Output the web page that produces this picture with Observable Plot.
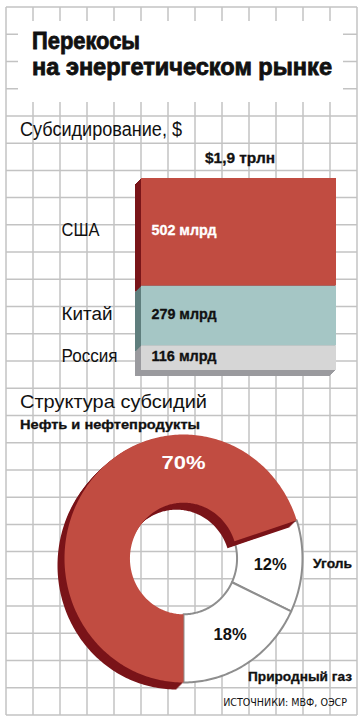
<!DOCTYPE html>
<html><head><meta charset="utf-8">
<script src="https://cdn.jsdelivr.net/npm/d3@7"></script>
<script src="https://cdn.jsdelivr.net/npm/@observablehq/plot@0.6"></script>
<style>
html,body{margin:0;padding:0;background:#fff;}
#page{position:relative;width:361px;height:726px;overflow:hidden;background:#fff;}
#page > svg{position:absolute;left:0;}
</style></head><body><div id="page"></div>
<script>
// ---------- data ----------
const titleLines = ["Перекосы", "на энергетическом рынке"];
const barTitle = "Субсидирование, $";
const totalLabel = "$1,9 трлн";
const countries = ["США", "Китай", "Россия"];
const subsidies = [502, 279, 116];            // млрд долл.
const subsidyLabels = ["502 млрд", "279 млрд", "116 млрд"];
const pieTitle = "Структура субсидий";
const fuels = ["Нефть и нефтепродукты", "Уголь", "Природный газ"];
const shares = [70, 12, 18];                  // %
const shareLabels = ["70%", "12%", "18%"];
const source = "ИСТОЧНИКИ: МВФ, ОЭСР";

// ---------- styles ----------
const FONT = "'Liberation Sans', Arial, sans-serif";
const barFront = {"США": "#c14c41", "Китай": "#a5c6c5", "Россия": "#d6d6d6"};
const barSide  = {"США": "#7a1519", "Китай": "#5f7e7d", "Россия": "#9a9a9e"};
const oilFront = "#c14c41", oilSide = "#7a1419";

const page = document.getElementById("page");

// background graph paper + title box
const bg = d3.select(page).append("svg").attr("width", 361).attr("height", 726).style("top", "0px");
const gx = d3.range(14).map(i => 6 + 27 * i);
const gy = d3.range(27).map(i => 7 + i * 708 / 26);
bg.selectAll("line.v").data(gx).join("line").attr("class", "v")
  .attr("x1", d => d).attr("x2", d => d).attr("y1", 7).attr("y2", 715)
  .attr("stroke", "#c3c3c3").attr("stroke-width", 1.5);
bg.selectAll("line.h").data(gy).join("line").attr("class", "h")
  .attr("y1", d => d).attr("y2", d => d).attr("x1", 6).attr("x2", 357)
  .attr("stroke", "#c3c3c3").attr("stroke-width", 1.5);
bg.append("rect").attr("x", 18).attr("y", 21).attr("width", 325).attr("height", 81).attr("fill", "#fff");

function fitTexts(svg, widths) {
  svg.querySelectorAll("text").forEach(t => {
    const w = widths[t.textContent];
    if (w) { t.setAttribute("textLength", w); t.setAttribute("lengthAdjust", "spacingAndGlyphs"); }
  });
}

// ---------- stacked subsidy column ----------
const rows = countries.map((c, i) => ({country: c, value: subsidies[i], label: subsidyLabels[i]}));
const stackRows = rows.slice().reverse(); // bottom first
const X = () => "всего";
const barPlot = Plot.plot({
  width: 361, height: 250,
  marginLeft: 141, marginRight: 25, marginTop: 38, marginBottom: 20,
  style: {background: "none", position: "absolute", top: "140px", left: "0px", overflow: "visible", fontFamily: FONT},
  x: {type: "band", domain: ["всего"], padding: 0, axis: null},
  y: {domain: [0, d3.sum(subsidies)], axis: null},
  color: {type: "identity"},
  marks: [
    ...d3.range(6, 0, -1).map(k => Plot.barY(stackRows, {x: X, y: "value", z: "country", fill: d => barSide[d.country], dx: -k, dy: k})),
    Plot.barY(stackRows, {x: X, y: "value", z: "country", fill: d => barFront[d.country]}),
    Plot.text(stackRows, Plot.stackY({y: "value", z: "country", text: "label", frameAnchor: "left", dx: 10, dy: -1.5, textAnchor: "start",
      fill: d => d.country === "США" ? "#fff" : "#111", fontWeight: "bold", fontSize: 14, stroke: d => d.country === "США" ? "#fff" : "#111", strokeWidth: 0.3})),
    Plot.text(stackRows, Plot.stackY({y: "value", z: "country", text: "country", frameAnchor: "left", dx: -80, dy: -2, textAnchor: "start",
      fill: "#111", fontSize: 18}))
  ]
});
fitTexts(barPlot, {"США": 38, "Китай": 51, "Россия": 56, "502 млрд": 65, "279 млрд": 65, "116 млрд": 65});
page.appendChild(barPlot);

// ---------- donut ----------
const total = d3.sum(shares);
let acc = 180; // clockwise from top; the largest share ends at the bottom
const slices = fuels.map((name, i) => { const a0 = acc, a1 = acc + shares[i] / total * 360; acc = a1; return {name, i, a0, a1}; });
const inner = 0.45;
const rad = a => a * Math.PI / 180;
function ring(s) {
  const pts = [], n = Math.max(2, Math.ceil(s.a1 - s.a0));
  for (let j = 0; j <= n; j++) { const a = rad(s.a0 + (s.a1 - s.a0) * j / n); pts.push({name: s.name, x: Math.sin(a), y: Math.cos(a)}); }
  for (let j = n; j >= 0; j--) { const a = rad(s.a0 + (s.a1 - s.a0) * j / n); pts.push({name: s.name, x: inner * Math.sin(a), y: inner * Math.cos(a)}); }
  pts.push({...pts[0]});
  return pts;
}
const oil = ring(slices[0]);
const others = slices.slice(1).flatMap(ring);
const labelPts = slices.map((s, i) => {
  const a = rad(i === 0 ? 0 : (s.a0 + s.a1) / 2), r = i === 0 ? 0.77 : 0.73;
  return {text: shareLabels[i], x: r * Math.sin(a), y: r * Math.cos(a), big: i === 0};
});
const pie = Plot.plot({
  width: 361, height: 300,
  marginLeft: 64, marginRight: 59, marginTop: 14, marginBottom: 38,
  style: {background: "none", position: "absolute", top: "420px", left: "0px", overflow: "visible", fontFamily: FONT},
  x: {domain: [-1, 1], axis: null},
  y: {domain: [-1, 1], axis: null},
  color: {type: "identity"},
  marks: [
    Plot.line(others, {x: "x", y: "y", z: "name", fill: "#fff", stroke: "#8e8e8e", strokeWidth: 2}),
    ...d3.range(7, 0, -1).map(k => Plot.line(oil, {x: "x", y: "y", z: "name", fill: oilSide, stroke: "none", dx: -k, dy: k})),
    Plot.line(oil, {x: "x", y: "y", z: "name", fill: oilFront, stroke: "none"}),
    Plot.text(labelPts, {x: "x", y: "y", text: "text", fill: d => d.big ? "#fff" : "#111", fontWeight: "bold", fontSize: d => d.big ? 19 : 17})
  ]
});
fitTexts(pie, {"70%": 44, "12%": 33, "18%": 33});
page.appendChild(pie);

// ---------- headings & annotations ----------
const ov = d3.select(page).append("svg").attr("width", 361).attr("height", 726).style("top", "0px").style("pointer-events", "none");

const notes = [
  {t: titleLines[0], x: 32, y: 48.5, size: 23, weight: 700, w: 108, sw: 0.8},
  {t: titleLines[1], x: 32, y: 74.5, size: 23, weight: 700, w: 300, sw: 0.8},
  {t: barTitle, x: 20, y: 136, size: 19.5, weight: 400, w: 162},
  {t: totalLabel, x: 205, y: 163, size: 14.5, weight: 700, w: 70},
  {t: pieTitle, x: 20, y: 408, size: 19, weight: 400, w: 187},
  {t: fuels[0], x: 20, y: 429, size: 12.5, weight: 700, w: 180},
  {t: fuels[1], x: 313, y: 568, size: 12.5, weight: 700, w: 39},
  {t: fuels[2], x: 352, y: 681, size: 12.5, weight: 700, w: 104, anchor: "end"}
];
ov.selectAll("text.note").data(notes).join("text").attr("class", "note")
  .attr("x", d => d.x).attr("y", d => d.y)
  .attr("text-anchor", d => d.anchor || "start")
  .attr("font-family", FONT).attr("font-size", d => d.size).attr("font-weight", d => d.weight)
  .attr("fill", "#111")
  .attr("stroke", d => d.weight === 700 ? "#111" : "none").attr("stroke-width", d => d.sw || 0.3)
  .attr("textLength", d => d.w).attr("lengthAdjust", "spacingAndGlyphs")
  .text(d => d.t);

// source line: condensed face, size fitted to its width (no glyph squeezing)
const src = ov.append("text").attr("x", 347).attr("y", 706).attr("text-anchor", "end")
  .attr("font-family", "'DejaVu Sans Condensed', 'Liberation Sans Narrow', " + FONT)
  .attr("font-size", 12).attr("fill", "#111").text(source);
const natural = src.node().getComputedTextLength();
if (natural > 0) src.attr("font-size", Math.min(13, 12 * 124 / natural).toFixed(2));
</script></body></html>
